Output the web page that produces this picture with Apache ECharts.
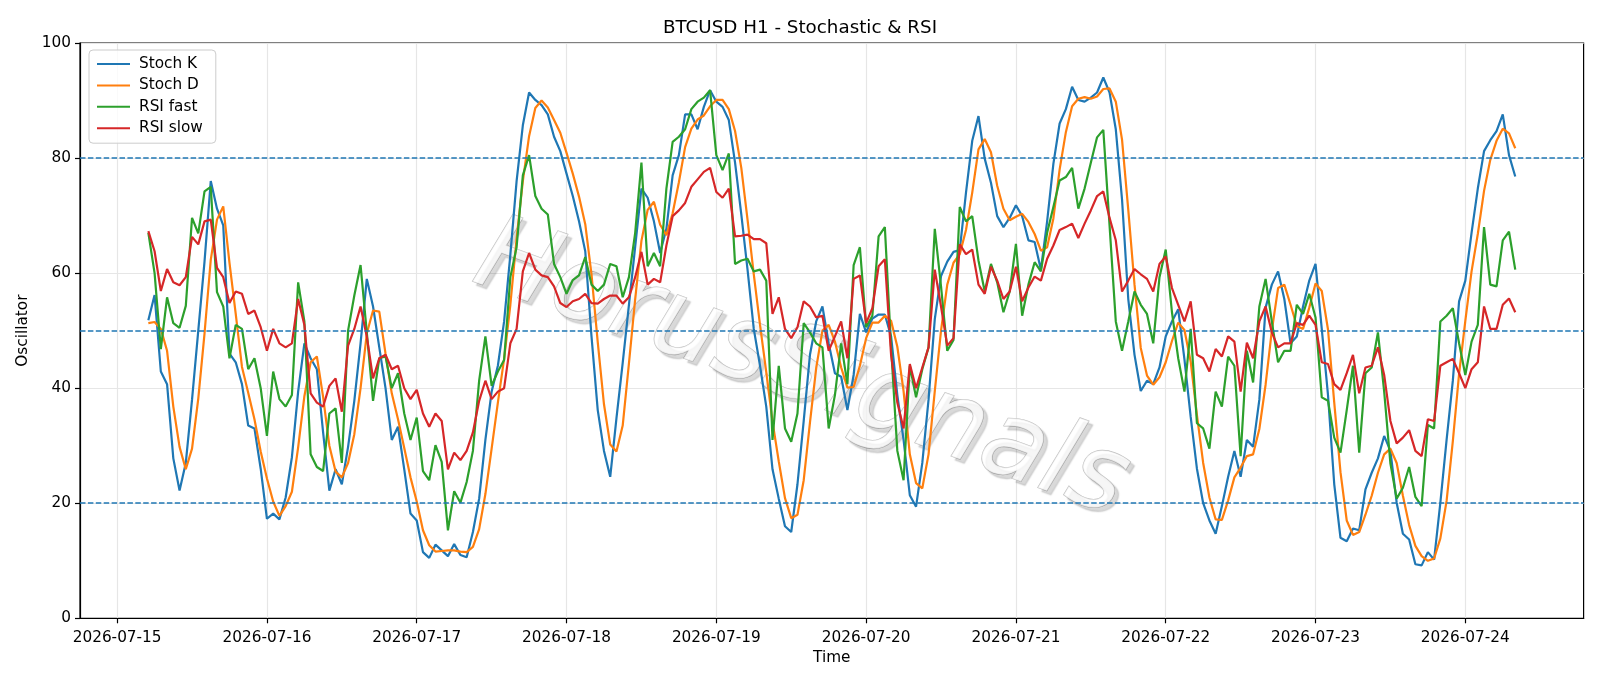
<!DOCTYPE html>
<html>
<head>
<meta charset="utf-8">
<title>BTCUSD H1 - Stochastic &amp; RSI</title>
<script src="https://cdn.jsdelivr.net/npm/echarts@6.0.0/dist/echarts.min.js"></script>
<style>
  html, body { margin: 0; padding: 0; background: #fff; }
  #chart { width: 1600px; height: 686px; }
</style>
</head>
<body>
<div id="chart"></div>
<script>
// hourly bars, first one is 2026-07-15 05:00 (x = hours since 2026-07-15 00:00)
const firstHour = 5;
const dayLabels = ["2026-07-15", "2026-07-16", "2026-07-17", "2026-07-18", "2026-07-19",
  "2026-07-20", "2026-07-21", "2026-07-22", "2026-07-23", "2026-07-24"];
const levels = [20, 50, 80];

const stochK = [
  51.8, 56.2, 42.9, 40.7, 27.8, 22.2, 27, 38, 50, 62,
  76, 71.2, 68.3, 46, 44.5, 40.7, 33.5, 33, 26, 17.3,
  18.2, 17.2, 21, 28, 39.4, 47.8, 45.2, 43.3, 32.3, 22.2,
  25.9, 23.3, 29.8, 37.8, 47.8, 59, 54.2, 47.1, 40, 31,
  33.3, 25.9, 18.2, 17, 11.5, 10.5, 12.8, 11.8, 10.8, 12.9,
  11, 10.6, 15, 20.8, 31, 39.4, 43.9, 51.6, 63.2, 76,
  85.7, 91.4, 90.1, 89.2, 87.6, 83.7, 81.2, 77.3, 73.4, 69,
  63.8, 49, 36.2, 29.1, 24.6, 34.8, 44.4, 54.5, 64.6, 74.7,
  73.1, 69, 63.5, 67.7, 77, 80.5, 87.6, 87.6, 85, 88.9,
  91.8, 89.8, 88.9, 86.6, 79.2, 70.2, 60.6, 50.3, 43.9, 36.8,
  25.9, 20.8, 16, 15, 23.3, 34.3, 45.8, 51.6, 54.2, 47.8,
  42.6, 42, 36.2, 42.3, 52.9, 49.7, 52.1, 52.8, 52.8, 49,
  38.8, 31, 21.4, 19.4, 27, 38, 52, 59.5, 62, 63.7,
  64, 74, 83, 87.3, 79.9, 75.7, 69.9, 68, 69.6, 71.8,
  69.9, 65.7, 65.4, 60.6, 69, 79, 86, 88.5, 92.4, 90.1,
  89.8, 90.5, 91.4, 94, 91.4, 85, 72.8, 55.5, 45.8, 39.5,
  41.3, 40.7, 43.6, 49, 51.6, 53.7, 45, 35, 26, 20,
  17, 14.7, 19.5, 24.6, 29.1, 24.6, 31, 29.8, 38, 54,
  58, 60.3, 55.5, 47.8, 49, 54.2, 58.7, 61.6, 50.3, 38.8,
  23.3, 14, 13.4, 15.6, 15.3, 22.4, 25.3, 27.8, 31.7, 29.1,
  20.1, 14.7, 13.7, 9.4, 9.2, 11.5, 10.2, 20.1, 31, 41.3,
  55.1, 58.7, 67, 74.7, 81.2, 83.1, 84.7, 87.6, 80.5, 76.8
];

const stochD = [
  51.3, 51.5, 50.3, 46.5, 36.8, 29.8, 25.9, 29.5, 38.2, 49.5,
  62.3, 69.3, 71.6, 61.8, 52.9, 43.7, 39.2, 34.6, 29, 24.3,
  20.3, 17.8, 19.5, 22, 29.7, 38.6, 44.5, 45.5, 38.5, 30,
  25.5, 24.5, 27, 32, 40, 49.5, 53.5, 53.3, 46, 39.1,
  34.6, 29.6, 24.5, 20.3, 15.3, 12.7, 11.6, 11.7, 11.8, 11.8,
  11.6, 11.5, 12.4, 15.5, 21.6, 29.5, 37.5, 45.1, 54.5, 66,
  76, 83.8, 88.7, 90, 88.8, 86.6, 84.4, 80.9, 77.3, 73.3,
  68.5, 59.8, 48, 37.2, 30.2, 29, 33.5, 44.3, 55.5, 65.6,
  71, 72.4, 68.4, 66.6, 70.4, 75.8, 81.9, 85.1, 86.7, 87.4,
  89, 90.1, 90.1, 88.5, 84.7, 78.3, 69.3, 59.8, 51, 42.8,
  34.2, 27.3, 20.9, 17.4, 18, 24, 34, 43.5, 50, 51,
  48.1, 43.6, 40.1, 40.2, 43.9, 48.7, 51.4, 51.4, 52.6, 51.7,
  47.2, 39.5, 28.5, 23.5, 22.6, 28.5, 39.5, 50, 58, 61.8,
  63.3, 67.5, 74, 81.5, 83.3, 81, 75.2, 71.2, 69.2, 69.8,
  70.3, 68.9, 66.8, 63.9, 64.5, 69.5, 78, 84.5, 89, 90.3,
  90.6, 90.3, 90.7, 92, 92.1, 89.8, 83.2, 71, 58, 47,
  42.2, 40.6, 41.9, 44.5, 48.2, 51.4, 50.1, 44.6, 35.3, 27,
  21, 17.2, 17.1, 20.5, 24.5, 26.2, 28.2, 28.5, 32.9, 40.6,
  50, 57.4, 58, 54.5, 50.8, 50.3, 54, 58.2, 56.9, 50.2,
  37.5, 25.4, 17, 14.5, 15, 18, 21.3, 25.3, 28.5, 29.5,
  27, 21.3, 16.2, 12.6, 10.8, 10, 10.4, 13.9, 20.4, 30.8,
  42.5, 51.7, 60.3, 66.8, 74.3, 79.7, 83, 85.1, 84.3, 81.7
];

const rsiFast = [
  67, 60, 46.8, 55.8, 51.3, 50.5, 54.3, 69.6, 66.9, 74.2,
  75, 56.7, 54.2, 45.2, 51, 50.3, 43.3, 45.2, 40, 31.7,
  42.9, 38.1, 36.8, 38.8, 58.4, 51.6, 28.5, 26.3, 25.6, 35.6,
  36.5, 27, 50, 56.1, 61.4, 49.7, 37.8, 45.2, 45.5, 40,
  42.6, 35.6, 31, 34.9, 25.6, 24, 30.1, 27.2, 15.3, 22.1,
  20.1, 23.7, 29.1, 41.3, 49, 40.4, 42.9, 44.9, 59.3, 64.5,
  77, 80.5, 73.4, 71.2, 70.2, 61.6, 59.3, 56.4, 58.8, 59.6,
  62.8, 58, 56.9, 58, 61.6, 61.2, 55.8, 59.3, 67, 79.2,
  61.2, 63.5, 61.2, 74.7, 82.8, 83.7, 85, 88.5, 89.8, 90.5,
  91.8, 80.5, 77.9, 80.8, 61.6, 62.2, 62.5, 60.3, 60.6, 58.7,
  31, 43.9, 33, 30.7, 35.6, 51.3, 49.7, 47.8, 47.1, 33,
  38.8, 47.8, 40.7, 61.4, 64.5, 50.6, 52.6, 66.4, 68, 47.1,
  29.1, 24, 43.9, 38.4, 43.3, 47.1, 67.7, 57.7, 46.5, 48.4,
  71.5, 69, 69.9, 62.2, 56.8, 61.6, 58.4, 53.2, 56.8, 65.1,
  52.6, 58, 61.9, 60.3, 67, 71.5, 76.1, 76.7, 78.3, 71.2,
  74.7, 79.2, 83.6, 84.9, 68.3, 51.6, 46.5, 51.6, 56.8, 54.5,
  52.9, 47.8, 59.3, 64.1, 53.2, 45.2, 39.4, 50.3, 33.9, 33,
  29.5, 39.4, 36.8, 45.5, 43.9, 28.2, 46.5, 41, 54.2, 59,
  51.6, 44.5, 46.5, 46.5, 54.5, 52.9, 56.4, 52.3, 38.4, 37.8,
  31.4, 28.8, 36.2, 43.9, 28.8, 42.6, 43.6, 49.7, 39.4, 26.9,
  20.8, 22.7, 26.3, 21.1, 19.5, 33.6, 33, 51.6, 52.6, 53.9,
  47.8, 42.3, 48.1, 51, 68, 58, 57.7, 65.7, 67.2, 60.6
];

const rsiSlow = [
  67.3, 63.8, 56.9, 60.7, 58.4, 57.9, 59.3, 66.3, 65, 69,
  69.3, 60.9, 59.3, 54.8, 56.8, 56.4, 52.9, 53.5, 50.6, 46.5,
  50.3, 47.8, 47.1, 47.8, 55.5, 51, 39.1, 37.5, 36.8, 40.4,
  41.7, 35.9, 47.4, 50.3, 54.2, 49, 41.7, 45.2, 45.8, 43.3,
  43.9, 40, 38.1, 39.7, 35.6, 33.3, 35.6, 34.3, 25.9, 28.8,
  27.5, 29.1, 32.3, 37.8, 41.3, 38.1, 39.4, 40, 47.8, 50.3,
  60.3, 63.5, 60.6, 59.6, 59.3, 57.7, 54.8, 54.1, 55.1, 55.5,
  56.4, 54.8, 54.7, 55.5, 56.1, 56.1, 54.7, 55.8, 59.3, 63.7,
  58, 59, 58.4, 64.8, 69.9, 70.9, 72.2, 75, 76.3, 77.6,
  78.3, 74.1, 73.1, 74.7, 66.4, 66.5, 66.7, 65.9, 65.9, 65.2,
  52.9, 55.8, 50.3, 48.7, 50.6, 55.1, 54.2, 52.3, 52.6, 46.5,
  49, 51.6, 45.2, 59, 59.6, 51.3, 53.9, 61.2, 62.4, 45.8,
  37.5, 33, 44.2, 40, 43.6, 47.1, 60.6, 54.2, 47.4, 48.7,
  65, 63.3, 64.1, 58, 56.4, 61.1, 58.7, 55.5, 56.8, 61.1,
  55.1, 57.5, 59.4, 58.7, 62.5, 64.8, 67.5, 68, 68.6, 66.1,
  68.6, 70.9, 73.4, 74.2, 69.6, 65.7, 56.8, 58.7, 60.7, 59.8,
  59, 56.8, 61.6, 62.9, 57.4, 54.5, 51.6, 55.1, 45.8, 45.2,
  42.9, 46.8, 45.5, 49, 48.1, 39.4, 47.9, 45.2, 51.6, 54.2,
  49.7, 47.1, 47.8, 47.8, 51.3, 51, 52.6, 51, 44.5, 44.2,
  40.7, 39.7, 42.6, 45.8, 39.1, 43.6, 43.9, 47.1, 42.3, 34.3,
  30.4, 31.4, 32.7, 29.1, 28.2, 34.6, 34.3, 43.9, 44.5, 45.1,
  42.6, 40, 43.3, 44.5, 54.2, 50.3, 50.3, 54.5, 55.6, 53.2
];

const seriesDefs = [
  { name: "Stoch K", values: stochK, color: "#1f77b4" },
  { name: "Stoch D", values: stochD, color: "#ff7f0e" },
  { name: "RSI fast", values: rsiFast, color: "#2ca02c" },
  { name: "RSI slow", values: rsiSlow, color: "#d62728" },
];

const fontFamily = "DejaVu Sans";
const dayTicks = dayLabels.map((_, i) => i * 24);
const lastHour = firstHour + stochK.length - 1;
const pad = (lastHour - firstHour) * 0.05;

function toPoints(values) {
  return values.map((v, i) => [firstHour + i, v]);
}

function buildSeries() {
  const lines = seriesDefs.map((def) => ({
    name: def.name,
    type: "line",
    data: toPoints(def.values),
    symbol: "none",
    showSymbol: false,
    lineStyle: { color: def.color, width: 2.2 },
    itemStyle: { color: def.color },
    emphasis: { disabled: true },
  }));

  // dashed reference levels, drawn above the oscillators
  lines.push({
    type: "line",
    data: [],
    silent: true,
    markLine: {
      silent: true,
      symbol: ["none", "none"],
      label: { show: false },
      lineStyle: { color: "#1f77b4", width: 1.5, type: [5.5, 2.4] },
      data: levels.map((y) => ({ yAxis: y })),
    },
  });
  return lines;
}

const chart = echarts.init(document.getElementById("chart"));
chart.setOption({
  animation: false,
  backgroundColor: "#fff",
  textStyle: { fontFamily },
  title: {
    text: "BTCUSD H1 - Stochastic & RSI",
    left: "center",
    top: 14,
    textStyle: { fontFamily, fontSize: 18.3, fontWeight: "normal", color: "#000" },
  },
  legend: {
    orient: "vertical",
    left: 89,
    top: 50,
    data: seriesDefs.map((d) => d.name),
    icon: "rect",
    itemWidth: 33,
    itemHeight: 2,
    itemGap: 5.4,
    padding: [6, 13, 7, 8],
    backgroundColor: "rgba(255,255,255,0.8)",
    borderColor: "#cccccc",
    borderWidth: 1,
    borderRadius: 4,
    textStyle: { fontFamily, fontSize: 15.3, lineHeight: 16, color: "#000", padding: [0, 0, 0, 4] },
  },
  grid: { left: 80, right: 16.4, top: 43, bottom: 67.7, show: true, borderColor: "#000", borderWidth: 1.2, outerBoundsMode: "none" },
  xAxis: {
    type: "value",
    min: firstHour - pad,
    max: lastHour + pad,
    name: "Time",
    nameLocation: "middle",
    nameGap: 32,
    nameTextStyle: { fontFamily, fontSize: 15.3, color: "#000" },
    axisLine: { show: true, onZero: false, lineStyle: { color: "#000", width: 1.2 } },
    axisTick: { show: true, length: 5, lineStyle: { color: "#000", width: 1.2 }, customValues: dayTicks },
    axisLabel: {
      customValues: dayTicks,
      margin: 12,
      fontFamily,
      fontSize: 15.3,
      color: "#000",
      formatter: (v) => dayLabels[Math.round(v / 24)] || "",
    },
    splitLine: { show: true, lineStyle: { color: "#e6e6e6", width: 1.2 } },
  },
  yAxis: {
    type: "value",
    min: 0,
    max: 100,
    interval: 20,
    name: "Oscillator",
    nameLocation: "middle",
    nameGap: 40,
    nameTextStyle: { fontFamily, fontSize: 15.3, color: "#000" },
    axisLine: { show: true, onZero: false, lineStyle: { color: "#000", width: 1.2 } },
    axisTick: { show: true, length: 5, lineStyle: { color: "#000", width: 1.2 } },
    axisLabel: { margin: 9, fontFamily, fontSize: 15.3, color: "#000" },
    splitLine: { show: true, lineStyle: { color: "#e6e6e6", width: 1.2 } },
  },
  graphic: [
    {
      type: "text",
      x: 801,
      y: 372,
      rotation: -0.35,
      z: 1,
      silent: true,
      style: {
        text: "HorusSignals",
        font: 'italic 105px "DejaVu Sans"',
        fill: "rgba(255,255,255,0.75)",
        stroke: "rgba(175,175,175,0.8)",
        lineWidth: 1.2,
        align: "center",
        verticalAlign: "middle",
        textAlign: "center",
        textVerticalAlign: "middle",
        textShadowColor: "rgba(0,0,0,0.2)",
        textShadowOffsetX: 4,
        textShadowOffsetY: 4,
        textShadowBlur: 1.5,
      },
    },
  ],
  series: buildSeries(),
});

window.addEventListener("resize", () => chart.resize());
</script>
</body>
</html>
